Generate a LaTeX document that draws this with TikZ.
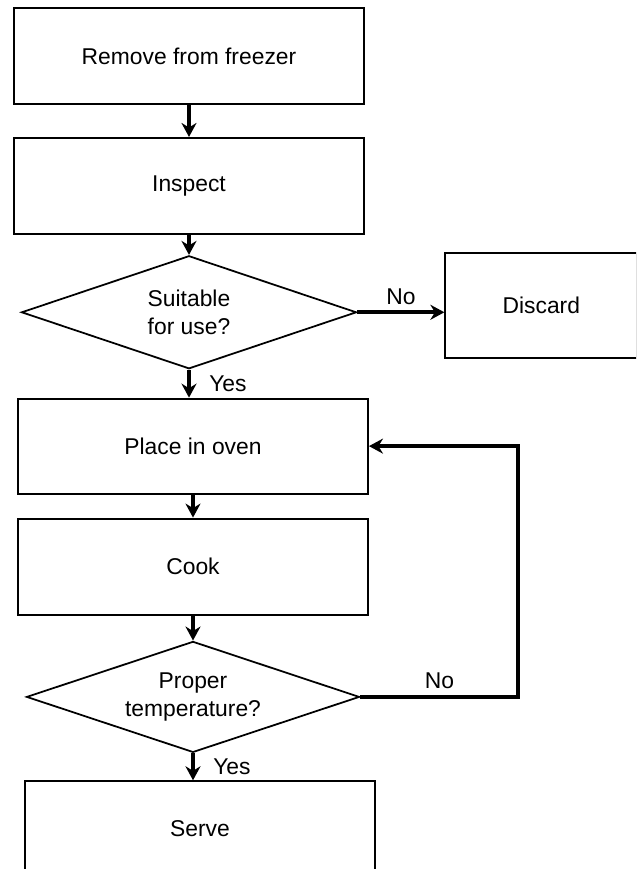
\documentclass[tikz,border=0pt]{standalone}
\usepackage{fontspec}
\setmainfont{Liberation Sans}
\usetikzlibrary{shapes.geometric,positioning,arrows.meta}

\begin{document}
\begin{tikzpicture}[>={Stealth[length=2.8mm,width=3mm]},
  every node/.style={font=\fontsize{13}{15.5}\selectfont},
  box/.style={draw,line width=1.1pt,minimum width=7cm,minimum height=1.92cm,inner sep=2pt},
  decision/.style={draw,diamond,aspect=3,line width=1pt,align=center,inner sep=0pt},
  flow/.style={->,line width=2.2pt}]
  \clip (0,0) rectangle (12.72,-17.38);
  \node[box] (remove) at (3.78,-1.12) {Remove from freezer};
  \node[box,below=0.64cm of remove] (inspect) {Inspect};
  \node[decision,minimum width=6.7cm,minimum height=2.26cm,below=0.4cm of inspect] (suitable) {Suitable\\for use?};
  \node[box,minimum width=3.84cm,minimum height=2.1cm,right=1.74cm of suitable,yshift=0.13cm] (discard) {Discard};
  \node[box,minimum height=1.9cm,below=0.56cm of suitable,xshift=0.08cm] (oven) {Place in oven};
  \node[box,below=0.46cm of oven] (cook) {Cook};
  \node[decision,minimum width=6.66cm,minimum height=2.22cm,below=0.5cm of cook] (proper) {Proper\\temperature?};
  \node[box,minimum height=1.88cm,below=0.54cm of proper,xshift=0.14cm] (serve) {Serve};
  % connectors
  \draw[flow] (remove) -- (inspect);
  \draw[flow] (inspect) -- (suitable);
  \draw[flow] (suitable.east) -- (suitable.east -| discard.west) node[midway,above] {No};
  \draw[flow] (suitable) -- (suitable.south |- oven.north) node[midway,right,xshift=0.25cm] {Yes};
  \draw[flow] (oven) -- (cook);
  \draw[flow] (cook) -- (proper);
  \draw[flow] (proper.east) -- ++(3.16,0) node[midway,above] {No} |- (oven.east);
  \draw[flow] (proper) -- (proper.south |- serve.north) node[midway,right,xshift=0.25cm] {Yes};
\end{tikzpicture}
\end{document}
